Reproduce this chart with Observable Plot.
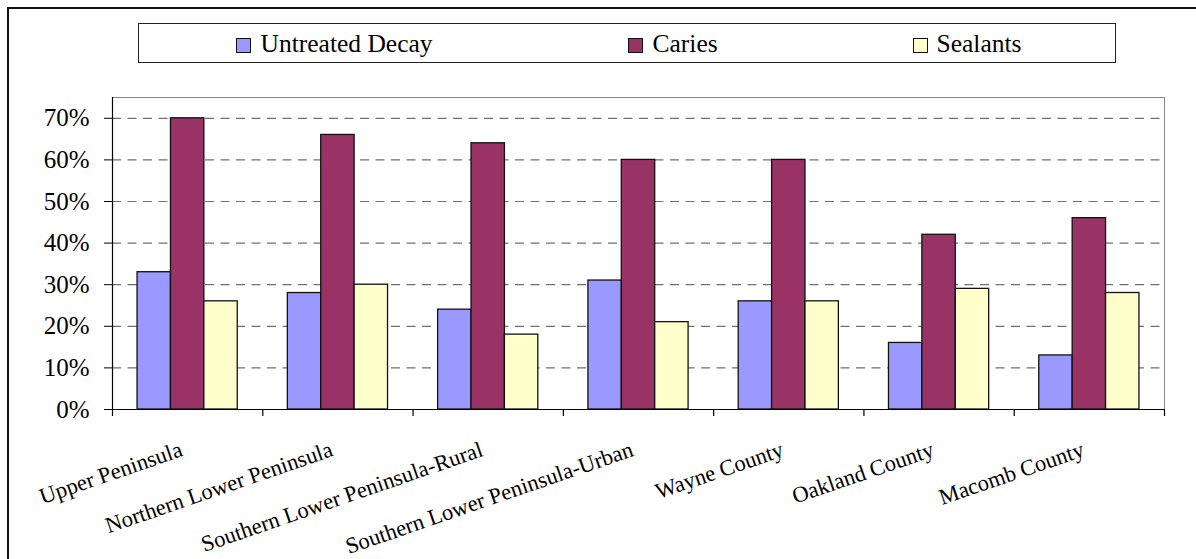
<!DOCTYPE html>
<html>
<head>
<meta charset="utf-8">
<script src="https://cdn.jsdelivr.net/npm/d3@7"></script>
<script src="https://cdn.jsdelivr.net/npm/@observablehq/plot@0.6"></script>
<style>
  html, body { margin: 0; padding: 0; background: #fff; }
  #wrap { position: relative; width: 1196px; height: 559px; overflow: hidden; font-family: "Liberation Serif", "Times New Roman", serif; }
  #outer { position: absolute; left: 7px; top: 7px; width: 1250px; height: 700px; border-left: 2px solid #111; border-top: 2px solid #111; box-sizing: border-box; pointer-events: none; }
  #legend { position: absolute; left: 138px; top: 23px; width: 978px; height: 40px; border: 1.5px solid #222; box-sizing: border-box; background: #fff; }
  .sw { position: absolute; top: 13.5px; width: 15px; height: 15px; border: 1.5px solid #111; box-sizing: border-box; }
  .lab { position: absolute; top: 7px; font-size: 25.5px; line-height: 25px; white-space: nowrap; color: #000; }
</style>
</head>
<body>
<div id="wrap">
  <div id="chart"></div>
  <div id="outer"></div>
  <div id="legend"></div>
</div>
<script>
const categories = ["Upper Peninsula", "Northern Lower Peninsula", "Southern Lower Peninsula-Rural", "Southern Lower Peninsula-Urban", "Wayne County", "Oakland County", "Macomb County"];
const untreatedDecay = [0.33, 0.28, 0.24, 0.31, 0.26, 0.16, 0.13];
const caries = [0.70, 0.66, 0.64, 0.60, 0.60, 0.42, 0.46];
const sealants = [0.26, 0.30, 0.18, 0.21, 0.26, 0.29, 0.28];
const seriesNames = ["Untreated Decay", "Caries", "Sealants"];
const seriesColors = ["#9999FF", "#993366", "#FFFFCC"];
const yTicks = [0, 0.1, 0.2, 0.3, 0.4, 0.5, 0.6, 0.7];

const seriesValues = [untreatedDecay, caries, sealants];
const rows = [];
seriesNames.forEach((s, k) => categories.forEach((c, i) => rows.push({category: c, series: s, value: seriesValues[k][i]})));

const FONT = "'Liberation Serif', 'Times New Roman', serif";
const W = 1196, H = 559;
const mL = 112, mR = 32, mT = 97, mB = 150;
const plotW = W - mL - mR;
const step = plotW / (categories.length - 1/3 + 2/6);
const bw = step * 2 / 3;

const barMarks = seriesNames.map((s, k) => Plot.barY(rows.filter(r => r.series === s), {
  x: "category", y: "value", fill: seriesColors[k], stroke: "#111", strokeWidth: 1.3,
  insetLeft: k * bw / 3, insetRight: (2 - k) * bw / 3
}));

const chart = Plot.plot({
  width: W, height: H,
  marginLeft: mL, marginRight: mR, marginTop: mT, marginBottom: mB,
  style: {fontFamily: FONT, fontSize: "25px", color: "#000", background: "transparent"},
  x: {domain: categories, axis: null, paddingInner: 1/3, paddingOuter: 1/6, round: false},
  y: {domain: [0, 0.75], ticks: yTicks, tickFormat: d => Math.round(d * 100) + "%", tickSize: 8, tickPadding: 15, label: null},
  marks: [
    Plot.ruleY(yTicks.filter(d => d > 0), {y: d => d, stroke: "#707070", strokeWidth: 1.2, strokeDasharray: "9,6.5"}),
    Plot.frame({stroke: "#888"}),
    ...barMarks,
    Plot.ruleX([categories[0]], {x: d => d, dx: -step / 2, stroke: "#000", strokeWidth: 1.2}),
    Plot.ruleY([0], {y: d => d, stroke: "#000", strokeWidth: 1.2}),
    Plot.ruleX(categories, {x: d => d, dx: -step / 2, y1: () => 0, y2: () => 0, insetBottom: -7, stroke: "#000", strokeWidth: 1.2}),
    Plot.ruleX([categories[categories.length - 1]], {x: d => d, dx: step / 2, y1: () => 0, y2: () => 0, insetBottom: -7, stroke: "#000", strokeWidth: 1.2}),
    Plot.text(categories, {x: d => d, y: () => 0, text: d => d, rotate: -19, textAnchor: "end", lineAnchor: "top", dx: -9, dy: 31, fontSize: 22.5, fontFamily: FONT, fill: "#000"})
  ]
});
document.getElementById("chart").appendChild(chart);

// legend
const legendPos = [{sw: 236, tx: 261}, {sw: 628, tx: 653}, {sw: 913, tx: 937}];
const legend = document.getElementById("legend");
seriesNames.forEach((s, k) => {
  const sw = document.createElement("div");
  sw.className = "sw";
  sw.style.left = (legendPos[k].sw - 139.5) + "px";
  sw.style.background = seriesColors[k];
  legend.appendChild(sw);
  const lab = document.createElement("div");
  lab.className = "lab";
  lab.style.left = (legendPos[k].tx - 139.5) + "px";
  lab.textContent = s;
  legend.appendChild(lab);
});
</script>
</body>
</html>
